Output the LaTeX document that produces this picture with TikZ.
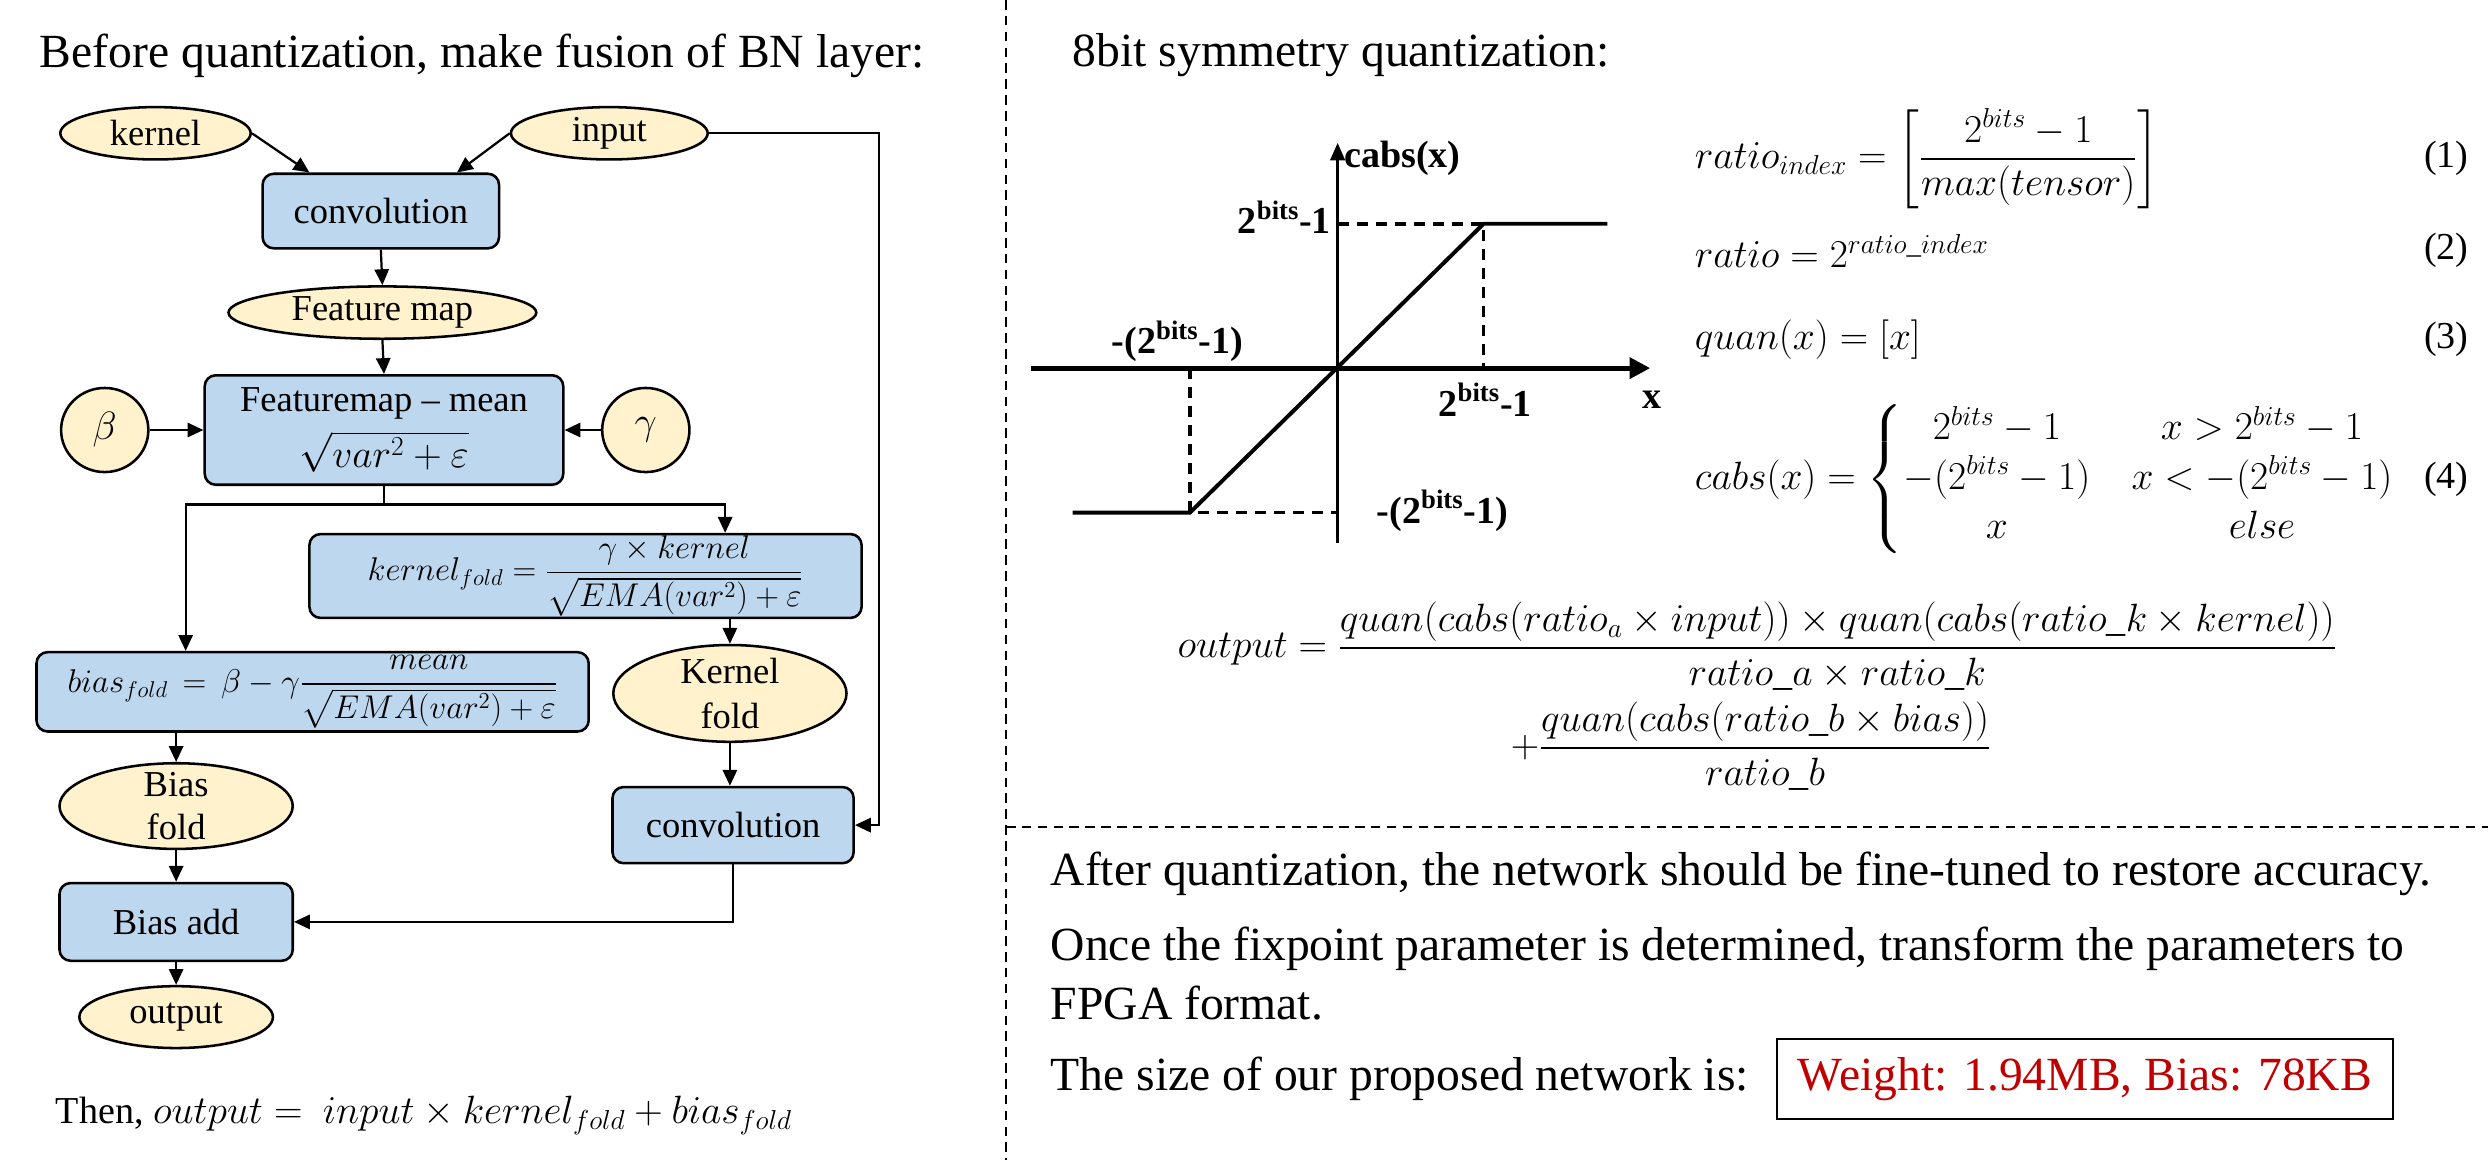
\documentclass[tikz,border=0pt]{standalone}
\usepackage{amsmath}
\usepackage{amssymb}
\usepackage{fontspec}
\setmainfont{Liberation Serif}
\usetikzlibrary{
  arrows.meta,
  shapes.geometric,
  positioning,
  calc
}
\definecolor{bnBlue}{HTML}{BDD7EE}
\definecolor{bnCream}{HTML}{FFF2CC}
\definecolor{bnRed}{HTML}{C00000}
\newcommand{\bnTitle}{\fontsize{30}{36}\selectfont}
\newcommand{\bnNode}{\fontsize{23}{28}\selectfont}
\newcommand{\bnMath}{\fontsize{20}{24}\selectfont}
\newcommand{\bnEq}{\fontsize{26}{31}\selectfont}
\newcommand{\bnOut}{\fontsize{24}{28}\selectfont}
\newcommand{\bnAxis}{\fontsize{24}{28}\selectfont\bfseries}
\tikzset{
  bnbox/.style={
    draw, line width=1.6pt, rounded corners=7pt, fill=bnBlue,
    font=\bnNode, align=center, inner sep=1pt
  },
  bnell/.style={
    draw, ellipse, line width=1.6pt, fill=bnCream,
    font=\bnNode, align=center, inner xsep=0pt, inner ysep=-6pt
  },
  flow/.style={-{Triangle[length=10pt,width=9pt]}, line width=1.4pt},
  wire/.style={line width=1.4pt},
  sep/.style={line width=1.2pt, dash pattern=on 6pt off 4pt},
  curve/.style={line width=2.5pt},
  guide/.style={line width=2.3pt, dash pattern=on 7pt off 5pt},
  axlabel/.style={font=\bnAxis, inner sep=0pt},
  eqn/.style={font=\bnEq, anchor=west, inner sep=0pt},
  eqno/.style={font=\fontsize{24}{28}\selectfont, anchor=east, inner sep=0pt},
  para/.style={font=\bnTitle, anchor=west, inner sep=0pt}
}

\begin{document}
\begin{tikzpicture}[x=1pt, y=-1pt]
  \useasboundingbox (0,0) rectangle (1568,731);

  % left half: BN fusion
  \node[para] (lefttitle) at (25,35) {Before quantization, make fusion of BN layer:};

  \node[bnell, minimum width=120pt, minimum height=33pt] (kernel) at (98,84) {kernel};
  \node[bnell, minimum width=124pt, minimum height=33pt] (input) at (384,84) {input};
  \node[bnbox, minimum width=149pt, minimum height=47pt] (conv1) at (240,133) {convolution};
  \node[bnell, minimum width=194pt, minimum height=33pt] (fmap) at (241,197) {Feature map};
  \node[bnbox, minimum width=226pt, minimum height=69pt, font=\fontsize{23}{35}\selectfont] (fnorm) at (242,271)
    {Featuremap -- mean\\$\sqrt{var^2+\varepsilon}$};
  \node[bnell, minimum width=55pt, minimum height=53pt] (beta) at (66,271) {$\beta$};
  \node[bnell, minimum width=55pt, minimum height=53pt] (gamma) at (407,271) {$\gamma$};

  \node[bnbox, minimum width=348pt, minimum height=52pt, font=\bnMath] (kfold) at (369,363)
    {$kernel_{fold}=\dfrac{\gamma\times kernel}{\sqrt{EMA(var^2)+\varepsilon}}$};
  \node[bnbox, minimum width=348pt, minimum height=50pt, font=\bnMath] (bfold) at (197,436)
    {$bias_{fold}\,=\,\beta-\gamma\dfrac{mean}{\sqrt{EMA(var^2)+\varepsilon}}$};
  \node[bnell, minimum width=147pt, minimum height=61pt] (kfoldell) at (460,437) {Kernel\\fold};
  \node[bnbox, minimum width=152pt, minimum height=48pt] (conv2) at (462,520) {convolution};
  \node[bnell, minimum width=147pt, minimum height=54pt, font=\fontsize{23}{27}\selectfont] (bfoldell) at (111,508) {Bias\\fold};
  \node[bnbox, minimum width=147pt, minimum height=49pt] (biasadd) at (111,581) {Bias add};
  \node[bnell, minimum width=122pt, minimum height=39pt] (output) at (111,641) {output};

  \node[font=\fontsize{24}{28}\selectfont, anchor=west, inner sep=0pt] (thenline) at (35,703)
    {Then, $output=\ input\times kernel_{fold}+bias_{fold}$};

  \coordinate (split) at (242,318);
  \coordinate (bypass) at (554,84);

  \draw[flow] (kernel.east) -- ([xshift=-45pt]conv1.north);
  \draw[flow] (input.west) -- ([xshift=48pt]conv1.north);
  \draw[flow] (conv1.south) -- (fmap.north);
  \draw[flow] (fmap.south) -- (fnorm.north);
  \draw[flow] (beta.east) -- (fnorm.west);
  \draw[flow] (gamma.west) -- (fnorm.east);
  \draw[wire] (fnorm.south) -- (split);
  \draw[flow] (split) -| ([xshift=88pt]kfold.north);
  \draw[flow] (split) -| ([xshift=-80pt]bfold.north);
  \draw[flow] (kfold.south -| kfoldell.north) -- (kfoldell.north);
  \draw[flow] (kfoldell.south) -- (kfoldell.south |- conv2.north);
  \draw[flow] (input.east) -- (bypass) |- (conv2.east);
  \draw[flow] (bfold.south -| bfoldell.north) -- (bfoldell.north);
  \draw[flow] (bfoldell.south) -- (biasadd.north);
  \draw[flow] (conv2.south) |- (biasadd.east);
  \draw[flow] (biasadd.south) -- (output.north);

  % separators
  \coordinate (septop) at (634,0);
  \coordinate (sepbot) at (634,731);
  \coordinate (sepmid) at (634,521);
  \coordinate (sepend) at (1568,521);
  \draw[sep] (septop) -- (sepbot);
  \draw[sep] (sepmid) -- (sepend);

  % right half: symmetric quantization
  \node[para] (righttitle) at (676,35) {8bit symmetry quantization:};

  \coordinate (orig) at (843,232);
  \coordinate (xaxl) at (650,232);
  \coordinate (xaxr) at (1040,232);
  \coordinate (yaxb) at (843,342);
  \coordinate (yaxt) at (843,90);
  \coordinate (hiknee) at (935,141);
  \coordinate (hiend) at (1013,141);
  \coordinate (hiy) at (843,141);
  \coordinate (hix) at (935,232);
  \coordinate (loknee) at (750,323);
  \coordinate (loend) at (676,323);
  \coordinate (loy) at (843,323);
  \coordinate (lox) at (750,232);

  \draw[line width=3pt, -{Triangle[length=13pt,width=13pt]}] (xaxl) -- (xaxr);
  \draw[line width=2pt, -{Triangle[length=11pt,width=9pt]}] (yaxb) -- (yaxt);
  \draw[guide] (hiy) -- (hiknee) -- (hix);
  \draw[guide] (lox) -- (loknee) -- (loy);
  \draw[curve] (loend) -- (loknee) -- (hiknee) -- (hiend);

  \node[axlabel, anchor=west] (cabslab) at (847,100) {cabs(x)};
  \node[axlabel, anchor=east] (hilab) at (839,137) {2\textsuperscript{bits}-1};
  \node[axlabel] (neglab) at (742,215) {-(2\textsuperscript{bits}-1)};
  \node[axlabel] (poslab) at (936,252) {2\textsuperscript{bits}-1};
  \node[axlabel] (xlab) at (1041,252) {x};
  \node[axlabel] (lolab) at (909,322) {-(2\textsuperscript{bits}-1)};

  % formulas
  \node[eqn] (eq1) at (1068,100)
    {$ratio_{index}=\left[\dfrac{2^{bits}-1}{max(tensor)}\right]$};
  \node[eqn] (eq2) at (1068,158) {$ratio=2^{ratio\_index}$};
  \node[eqn] (eq3) at (1068,214) {$quan(x)=[x]$};
  \node[eqn] (eq4) at (1068,302)
    {$cabs(x)=\left\{\begin{array}{@{}c@{\quad}c@{}}
      2^{bits}-1 & x>2^{bits}-1\\
      -(2^{bits}-1) & x<-(2^{bits}-1)\\
      x & else
    \end{array}\right.$};
  \node[eqno] (no1) at (1556,100) {(1)};
  \node[eqno] (no2) at (1556,158) {(2)};
  \node[eqno] (no3) at (1556,214) {(3)};
  \node[eqno] (no4) at (1556,302) {(4)};

  \node[eqn, font=\bnOut] (eqout) at (742,407)
    {$output=\dfrac{quan(cabs(ratio_{a}\times input))\times quan(cabs(ratio\_k\times kernel))}{ratio\_a\times ratio\_k}$};
  \node[eqn, font=\bnOut] (eqout2) at (952,470)
    {$+\dfrac{quan(cabs(ratio\_b\times bias))}{ratio\_b}$};

  % notes
  \node[para] (note1) at (662,551) {After quantization, the network should be fine-tuned to restore accuracy.};
  \node[para] (note2) at (662,598) {Once the fixpoint parameter is determined, transform the parameters to};
  \node[para] (note3) at (662,632) {FPGA format.};
  \node[para] (note4) at (662,680) {The size of our proposed network is:};
  \node[draw, line width=1.2pt, minimum width=388pt, minimum height=50pt, font=\bnTitle, text=bnRed] (sizebox) at (1314,680)
    {Weight: 1.94MB, Bias: 78KB};
\end{tikzpicture}
\end{document}
